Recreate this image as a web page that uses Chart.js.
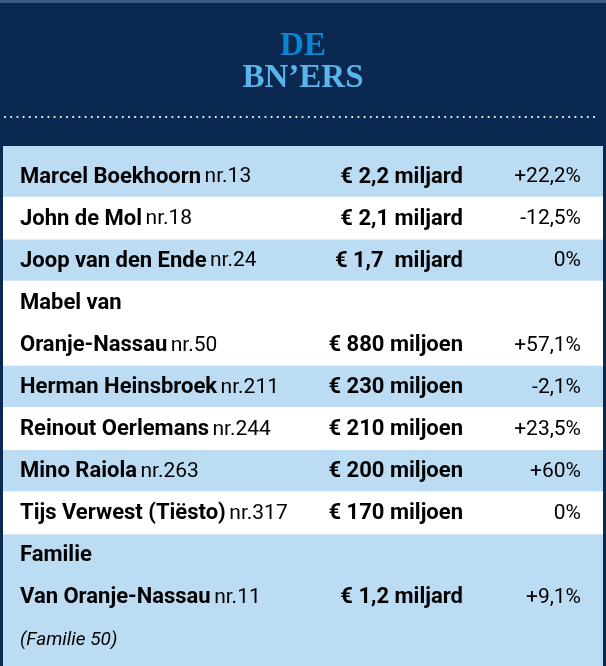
<!DOCTYPE html>
<html><head><meta charset="utf-8">
<script src="https://cdn.jsdelivr.net/npm/chart.js@4.4.0/dist/chart.umd.min.js"></script>
<style>html,body{margin:0;padding:0;background:#0a2850}#wrap{width:606px;height:666px}</style>
</head><body><div id="wrap"><canvas id="c"></canvas></div>
<script>
const titleLines = ["DE", "BN’ERS"];
const lines = ["r1","r2","r3","r4a","r4b","r5","r6","r7","r8","r9a","r9b","r9c"];
const names = ["Marcel Boekhoorn","John de Mol","Joop van den Ende","Mabel van","Oranje-Nassau","Herman Heinsbroek","Reinout Oerlemans","Mino Raiola","Tijs Verwest (Tiësto)","Familie","Van Oranje-Nassau",""];
const ranks = ["nr.13","nr.18","nr.24","","nr.50","nr.211","nr.244","nr.263","nr.317","","nr.11",""];
const amounts = ["€ 2,2 miljard","€ 2,1 miljard","€ 1,7  miljard","","€ 880 miljoen","€ 230 miljoen","€ 210 miljoen","€ 200 miljoen","€ 170 miljoen","","€ 1,2 miljard",""];
const changes = ["+22,2%","-12,5%","0%","","+57,1%","-2,1%","+23,5%","+60%","0%","","+9,1%",""];
const notes = ["","","","","","","","","","","","(Familie 50)"];
const whiteRows = [0,1,0,1,1,0,1,0,1,0,0,0];

const F = "'Liberation Sans Narrow','Roboto','Liberation Sans',sans-serif";
const deco = {
  id:'deco',
  beforeDraw(ch){
    const c=ch.ctx, a=ch.chartArea;
    c.save();
    c.fillStyle='#0a2850'; c.fillRect(0,0,ch.width,ch.height);
    c.fillStyle='#3d5a82'; c.fillRect(0,0,ch.width,3);
    c.fillStyle='#bcdcf4'; c.fillRect(a.left,a.top-9,a.right-a.left,ch.height-a.top+9);
    c.textAlign='center'; c.textBaseline='middle';
    c.font="bold 33px 'Liberation Serif','DejaVu Serif',serif";
    c.fillStyle='#0b86d4'; c.fillText(titleLines[0],ch.width/2,46);
    c.fillStyle='#5bb4ea'; c.fillText(titleLines[1],ch.width/2,78);
    c.fillStyle='#ffffff';
    for(let x=5;x<600;x+=6.2){c.beginPath();c.arc(x,117,1.1,0,Math.PI*2);c.fill();}
    c.restore();
  },
  afterDatasetsDraw(ch){
    const c=ch.ctx, y=ch.scales.y;
    c.save(); c.textBaseline='middle'; c.fillStyle='#000';
    lines.forEach((l,i)=>{
      const py=y.getPixelForValue(i)+1;
      c.textAlign='left';
      c.font="bold 22px "+F; c.fillText(names[i],20,py);
      if(ranks[i]){const w=c.measureText(names[i]+' ').width; c.font="21px "+F; c.fillText(ranks[i],20+w-2,py);}
      if(notes[i]){c.font="italic 19px "+F; c.fillText(notes[i],20,py);}
      c.textAlign='right';
      if(amounts[i]){c.font="bold 22px "+F; c.fillText(amounts[i],463,py);}
      if(changes[i]){c.font="21px "+F; c.fillText(changes[i],581,py);}
    });
    c.restore();
  }
};
new Chart(document.getElementById('c'),{
  type:'bar',
  data:{labels:lines,datasets:[{data:whiteRows,backgroundColor:'#ffffff',borderWidth:0,categoryPercentage:1,barPercentage:1.02}]},
  options:{indexAxis:'y',responsive:true,maintainAspectRatio:false,animation:false,
    layout:{padding:{top:155,bottom:6,left:3,right:3}},
    plugins:{legend:{display:false},tooltip:{enabled:false}},
    scales:{x:{display:false,min:0,max:1},y:{display:false,offset:true}}},
  plugins:[deco]
});
</script></body></html>
